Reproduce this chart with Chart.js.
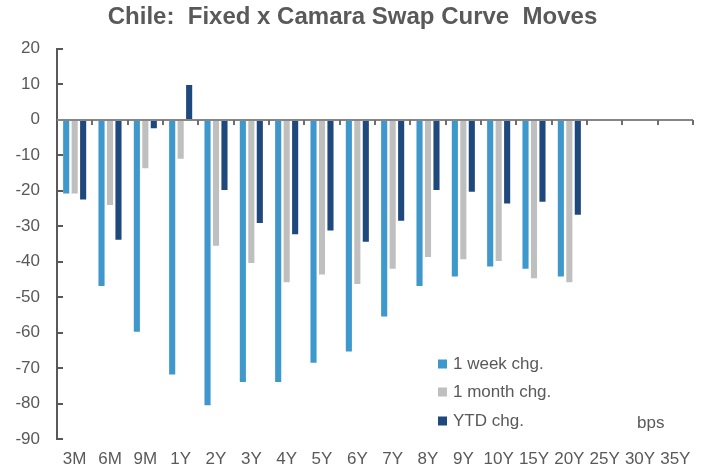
<!DOCTYPE html>
<html>
<head>
<meta charset="utf-8">
<script src="https://cdn.jsdelivr.net/npm/chart.js@4.4.1/dist/chart.umd.min.js"></script>
<style>
html,body{margin:0;padding:0;background:#fff;}
#wrap{width:707px;height:468px;}
</style>
</head>
<body>
<div id="wrap"><canvas id="c" width="707" height="468"></canvas></div>
<script>
const categories = ['3M','6M','9M','1Y','2Y','3Y','4Y','5Y','6Y','7Y','8Y','9Y','10Y','15Y','20Y','25Y','30Y','35Y'];
const weekChg  = [-20.8,-46.9,-59.8,-71.8,-80.5,-73.9,-73.9,-68.5,-65.3,-55.5,-46.9,-44.2,-41.4,-42.0,-44.2,null,null,null];
const monthChg = [-20.8,-24.0,-13.7,-11.0,-35.5,-40.4,-45.8,-43.6,-46.3,-42.0,-38.7,-39.3,-39.8,-44.7,-45.8,null,null,null];
const ytdChg   = [-22.5,-33.8,-2.4,9.8,-19.8,-29.1,-32.3,-31.2,-34.4,-28.5,-19.8,-20.3,-23.6,-23.1,-26.8,null,null,null];
const yTicks = [20,10,0,-10,-20,-30,-40,-50,-60,-70,-80,-90];
const seriesNames = ['1 week chg.','1 month chg.','YTD chg.'];
const colors = ['#3E98CB','#BFBFBF','#1F497D'];
const textColor = '#595959';
const FONT = "'Liberation Sans', Arial, sans-serif";

const decor = {
  id: 'decor',
  afterDatasetsDraw(chart) {
    const ctx = chart.ctx, x = chart.scales.x, y = chart.scales.y, ca = chart.chartArea;
    ctx.save();
    ctx.strokeStyle = '#595959'; ctx.lineWidth = 2;
    yTicks.forEach(v => {
      const py = Math.round(y.getPixelForValue(v));
      ctx.beginPath(); ctx.moveTo(ca.left, py); ctx.lineTo(ca.left + 6, py); ctx.stroke();
    });
    const y0 = Math.round(y.getPixelForValue(0));
    ctx.strokeStyle = '#868686'; ctx.lineWidth = 2;
    ctx.beginPath(); ctx.moveTo(ca.left, y0); ctx.lineTo(ca.right, y0); ctx.stroke();
    const n = categories.length, w = (x.right - x.left) / n;
    ctx.lineWidth = 2; ctx.strokeStyle = '#6e6e6e';
    for (let i = 1; i <= n; i++) {
      const px = Math.round(x.left + i * w);
      ctx.beginPath(); ctx.moveTo(px, y0); ctx.lineTo(px, y0 + 5); ctx.stroke();
    }
    ctx.font = '17px ' + FONT; ctx.textBaseline = 'middle'; ctx.textAlign = 'left';
    const lx = 438, ly = [364, 392, 421];
    seriesNames.forEach((s, i) => {
      ctx.fillStyle = colors[i];
      ctx.fillRect(lx, ly[i] - 4.5, 9, 9);
      ctx.fillStyle = textColor;
      ctx.fillText(s, lx + 15, ly[i]);
    });
    ctx.fillText('bps', 637, 423);
    ctx.restore();
  }
};

new Chart(document.getElementById('c'), {
  type: 'bar',
  data: {
    labels: categories,
    datasets: [
      {label: seriesNames[0], data: weekChg, backgroundColor: colors[0]},
      {label: seriesNames[1], data: monthChg, backgroundColor: colors[1]},
      {label: seriesNames[2], data: ytdChg, backgroundColor: colors[2]}
    ]
  },
  options: {
    responsive: false,
    animation: false,
    devicePixelRatio: 1,
    layout: {padding: {left: 12, right: 14, top: 0, bottom: 0}},
    datasets: {bar: {categoryPercentage: 0.72, barPercentage: 0.72}},
    plugins: {
      legend: {display: false},
      tooltip: {enabled: false},
      title: {
        display: true,
        text: 'Chile:  Fixed x Camara Swap Curve  Moves',
        color: textColor,
        font: {family: FONT, size: 24, weight: 'bold'},
        padding: {top: 3, bottom: 17}
      }
    },
    scales: {
      x: {
        afterFit(scale) { scale.height = 29; },
        grid: {display: false, drawTicks: false},
        border: {display: false},
        ticks: {color: textColor, font: {family: FONT, size: 17}, padding: 10, autoSkip: false, maxRotation: 0}
      },
      y: {
        min: -90, max: 20,
        afterBuildTicks(scale) { scale.ticks = yTicks.map(v => ({value: v})); },
        afterFit(scale) { scale.width = 45; },
        grid: {display: false, drawTicks: false},
        border: {display: true, color: '#595959', width: 2},
        ticks: {color: textColor, font: {family: FONT, size: 17}, padding: 17}
      }
    }
  },
  plugins: [decor]
});
</script>
</body>
</html>
